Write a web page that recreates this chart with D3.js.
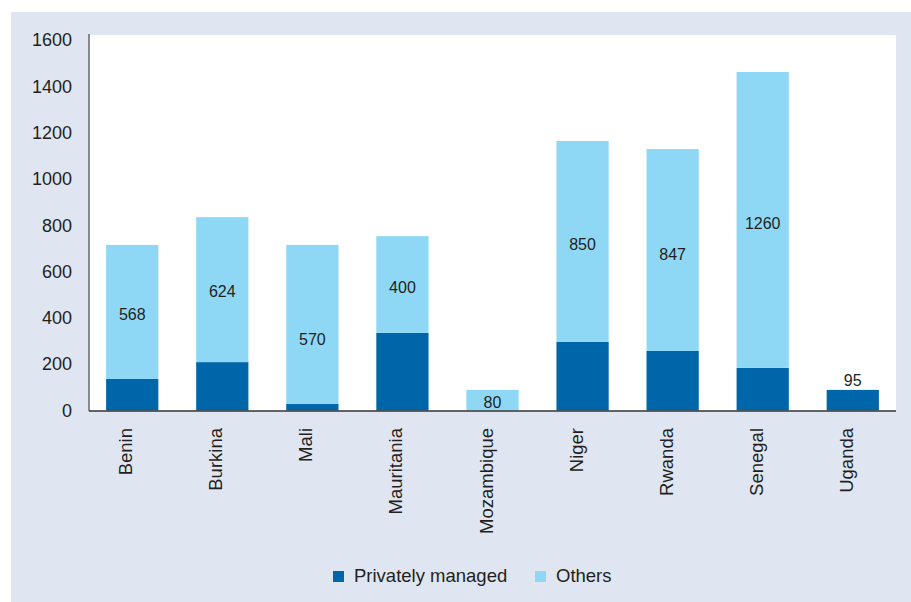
<!DOCTYPE html>
<html>
<head>
<meta charset="utf-8">
<script src="https://cdn.jsdelivr.net/npm/d3@7"></script>
<style>
  body { margin: 0; background: #fff; }
  svg { display: block; font-family: "Liberation Sans", Arial, Helvetica, sans-serif; }
</style>
</head>
<body>
<svg id="chart" width="911" height="602"></svg>
<script>
// data
const countries = ["Benin", "Burkina", "Mali", "Mauritania", "Mozambique", "Niger", "Rwanda", "Senegal", "Uganda"];
const privateVals = [136, 209, 28, 335, 0, 296, 257, 184, 89];
const otherVals = [579, 626, 687, 418, 89, 868, 872, 1278, 0];
const valueLabels = [568, 624, 570, 400, 80, 850, 847, 1260, 95];
const yTicks = [0, 200, 400, 600, 800, 1000, 1200, 1400, 1600];
const seriesNames = ["Privately managed", "Others"];

const darkBlue = "#0066aa",
      lightBlue = "#8ed8f6",
      panelBg = "#dfe6f1",
      textColor = "#231f20";

const svg = d3.select("#chart");

// grey panel + white plot area
svg.append("rect")
  .attr("x", 11).attr("y", 12)
  .attr("width", 900).attr("height", 590)
  .attr("fill", panelBg);

const plot = { left: 89, right: 896, top: 35, bottom: 411 };

svg.append("rect")
  .attr("x", plot.left).attr("y", plot.top)
  .attr("width", plot.right - plot.left)
  .attr("height", plot.bottom - plot.top)
  .attr("fill", "#fff");

const x = d3.scaleBand()
  .domain(countries)
  .range([plot.left, plot.right])
  .paddingInner(0.42)
  .paddingOuter(0.19);

const y = d3.scaleLinear().domain([0, 1600]).range([410.5, 40]);

const rows = countries.map((c, i) => ({
  country: c,
  priv: privateVals[i],
  other: otherVals[i],
  label: valueLabels[i]
}));

// stacked bars
svg.append("g").selectAll("rect")
  .data(rows)
  .enter().append("rect")
  .attr("x", d => x(d.country))
  .attr("y", d => y(d.priv))
  .attr("width", x.bandwidth())
  .attr("height", d => y(0) - y(d.priv))
  .attr("fill", darkBlue);

svg.append("g").selectAll("rect")
  .data(rows)
  .enter().append("rect")
  .attr("x", d => x(d.country))
  .attr("y", d => y(d.priv + d.other))
  .attr("width", x.bandwidth())
  .attr("height", d => y(d.priv) - y(d.priv + d.other))
  .attr("fill", lightBlue);

// value labels (inside the light segment, or above the bar when there is none)
svg.append("g").selectAll("text")
  .data(rows)
  .enter().append("text")
  .attr("x", d => x(d.country) + x.bandwidth() / 2)
  .attr("y", d => d.other > 0 ? y(d.priv + d.label / 2) : y(d.priv) - 4)
  .attr("dy", d => d.other > 0 ? "0.42em" : 0)
  .attr("text-anchor", "middle")
  .attr("font-size", "16px")
  .attr("fill", textColor)
  .text(d => d.label);

// y axis
const yAxis = svg.append("g")
  .attr("transform", `translate(${plot.left},0)`)
  .call(d3.axisLeft(y).tickValues(yTicks).tickFormat(d3.format("d")).tickSize(0).tickPadding(17));
yAxis.select(".domain").remove();
yAxis.selectAll("text")
  .attr("font-family", null)
  .attr("font-size", "18px")
  .attr("fill", textColor);

svg.append("line")
  .attr("x1", plot.left).attr("x2", plot.left)
  .attr("y1", 34).attr("y2", plot.bottom)
  .attr("stroke", "#666").attr("stroke-width", 1.5);

svg.append("line")
  .attr("x1", plot.left).attr("x2", plot.right)
  .attr("y1", plot.bottom).attr("y2", plot.bottom)
  .attr("stroke", "#333").attr("stroke-width", 1.5);

// rotated category labels
svg.append("g").selectAll("text")
  .data(countries)
  .enter().append("text")
  .attr("transform", d => `translate(${x(d) + x.bandwidth() / 2},428) rotate(-90)`)
  .attr("text-anchor", "end")
  .attr("font-size", "18.5px")
  .attr("fill", textColor)
  .text(d => d);

// legend
const legendX = [333, 535];
const legend = svg.append("g").selectAll("g")
  .data(seriesNames)
  .enter().append("g")
  .attr("transform", (d, i) => `translate(${legendX[i]},571)`);

legend.append("rect")
  .attr("width", 11).attr("height", 11)
  .attr("fill", (d, i) => i === 0 ? darkBlue : lightBlue);

legend.append("text")
  .attr("x", 21)
  .attr("y", 11)
  .attr("font-size", "18.5px")
  .attr("fill", textColor)
  .text(d => d);
</script>
</body>
</html>
